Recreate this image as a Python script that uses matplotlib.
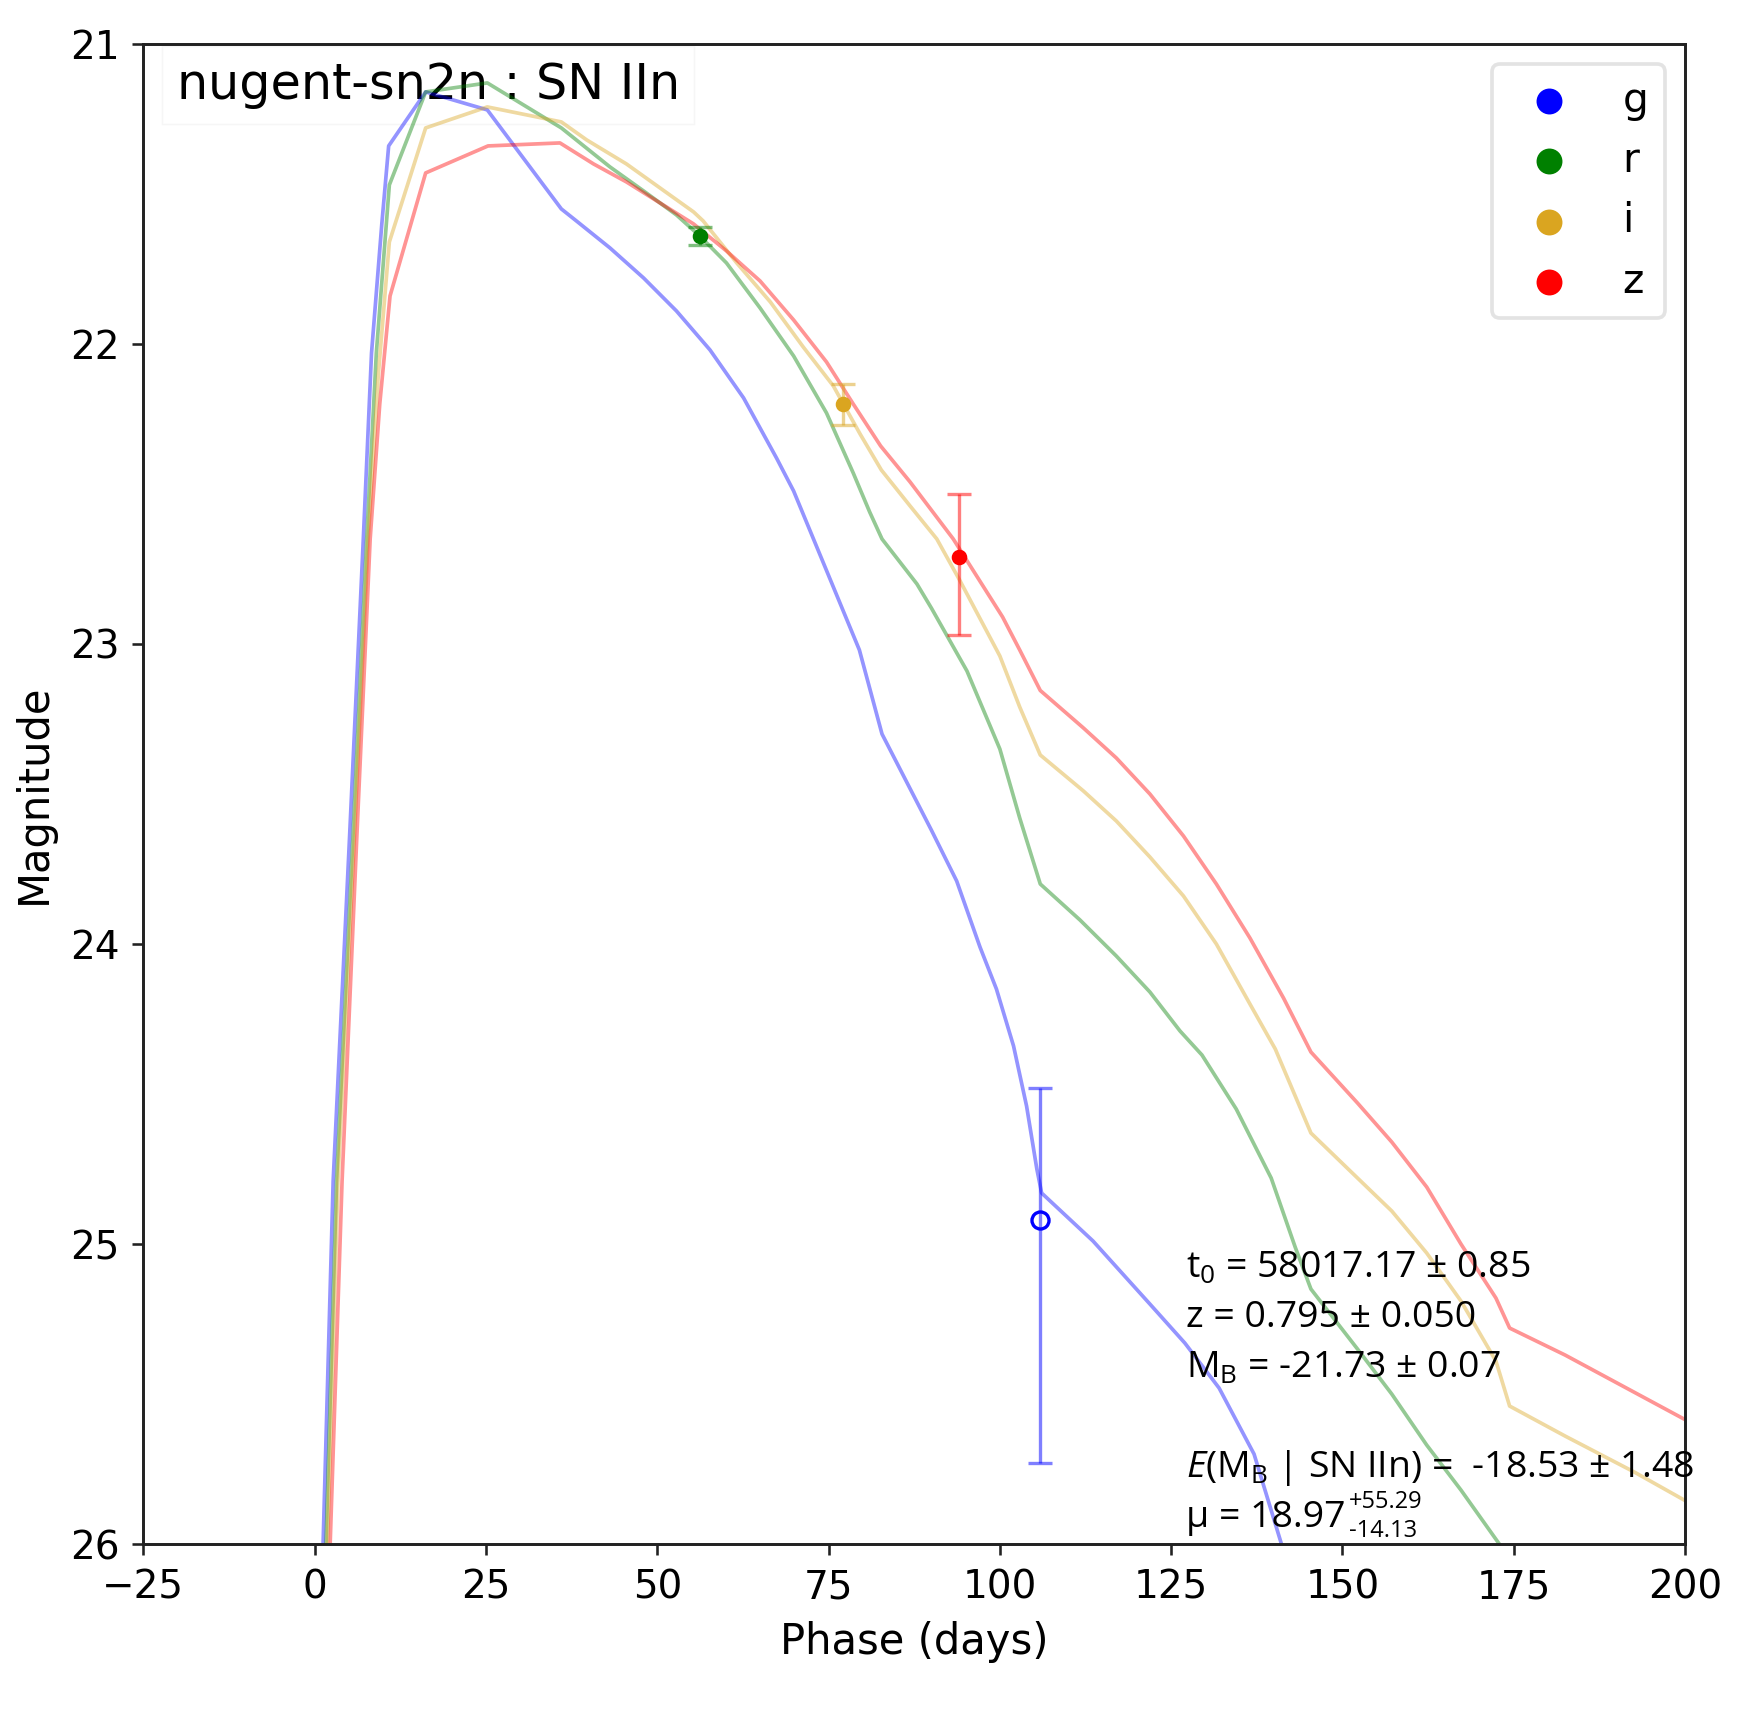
import numpy as np
import matplotlib.pyplot as plt

plt.rcParams['mathtext.fontset'] = 'custom'
plt.rcParams['mathtext.rm'] = 'Open Sans'
plt.rcParams['mathtext.it'] = 'Open Sans:italic'
plt.rcParams['axes.linewidth'] = 0.8
plt.rcParams['axes.edgecolor'] = '#222222'

# model light curves (phase in days, magnitude)
g_phase = [0.5, 2.7, 5.1, 7.1, 8.3, 9.8, 10.8, 16.2, 25.2, 36.0, 38.2, 43.1, 48.0, 52.8,
           57.7, 62.6, 67.4, 69.9, 72.8, 79.5, 82.8, 90.0, 93.7, 97.1, 99.5, 102.0, 103.9,
           105.4, 106.1, 113.6, 121.9, 127.0, 132.0, 137.1, 141.1, 150.0]
g_mag = [26.6, 24.79, 23.64, 22.65, 22.03, 21.6, 21.34, 21.16, 21.22, 21.55, 21.59, 21.68,
         21.78, 21.89, 22.02, 22.18, 22.38, 22.49, 22.65, 23.02, 23.30, 23.62, 23.79, 24.01,
         24.15, 24.34, 24.54, 24.75, 24.83, 24.99, 25.20, 25.33, 25.48, 25.70, 26.0, 26.6]

r_phase = [0.9, 3.2, 5.6, 7.6, 9.0, 10.9, 16.2, 25.2, 36.0, 43.1, 48.0, 52.8, 56.2, 60.1,
           65.0, 69.9, 74.7, 78.6, 81.0, 82.8, 87.9, 90.0, 95.2, 100.0, 102.9, 105.9, 111.7,
           117.0, 121.9, 126.3, 129.5, 134.5, 139.6, 143.1, 145.4, 152.2, 157.2, 162.3,
           167.3, 172.9, 180.0]
r_mag = [26.6, 24.79, 23.64, 22.65, 22.03, 21.47, 21.16, 21.13, 21.28, 21.41, 21.49, 21.57,
         21.64, 21.73, 21.88, 22.04, 22.23, 22.43, 22.56, 22.65, 22.80, 22.88, 23.09, 23.35,
         23.58, 23.80, 23.92, 24.04, 24.16, 24.29, 24.37, 24.55, 24.78, 25.01, 25.15, 25.35,
         25.50, 25.67, 25.82, 26.0, 26.3]

i_phase = [1.1, 3.4, 5.8, 7.8, 9.3, 10.9, 16.2, 25.2, 36.0, 39.7, 45.5, 50.4, 55.3, 56.7,
           61.6, 66.5, 71.3, 75.7, 79.6, 82.7, 86.9, 90.8, 94.2, 100.0, 102.9, 105.9, 112.2,
           117.0, 121.9, 126.8, 131.6, 136.5, 140.2, 145.4, 152.2, 157.2, 162.3, 167.3,
           172.4, 174.4, 182.5, 192.6, 200.4, 205.0]
i_mag = [26.6, 24.79, 23.64, 22.65, 22.10, 21.66, 21.28, 21.21, 21.26, 21.32, 21.40, 21.48,
         21.56, 21.59, 21.73, 21.86, 22.01, 22.14, 22.30, 22.42, 22.54, 22.65, 22.79, 23.04,
         23.21, 23.37, 23.49, 23.59, 23.71, 23.84, 24.00, 24.20, 24.35, 24.63, 24.78, 24.89,
         25.03, 25.19, 25.39, 25.54, 25.64, 25.76, 25.86, 25.92]

z_phase = [1.4, 4.0, 6.1, 8.1, 9.5, 11.0, 16.2, 25.3, 35.8, 40.7, 45.5, 50.4, 55.3, 60.1,
           65.0, 69.9, 74.7, 78.6, 82.6, 86.9, 93.2, 100.4, 102.9, 105.9, 112.2, 117.0,
           121.9, 126.8, 131.6, 136.5, 141.4, 145.4, 152.2, 157.2, 162.3, 167.3, 172.4,
           174.4, 182.5, 200.4, 205.0]
z_mag = [26.6, 24.79, 23.67, 22.65, 22.20, 21.84, 21.43, 21.34, 21.33, 21.40, 21.46, 21.53,
         21.60, 21.69, 21.79, 21.92, 22.06, 22.20, 22.34, 22.46, 22.65, 22.91, 23.02, 23.155,
         23.28, 23.38, 23.50, 23.64, 23.80, 23.98, 24.18, 24.36, 24.53, 24.66, 24.81, 25.00,
         25.18, 25.28, 25.37, 25.59, 25.64]

bands = ['g', 'r', 'i', 'z']
colors = ['blue', 'green', 'goldenrod', 'red']
model_phase = [g_phase, r_phase, i_phase, z_phase]
model_mag = [g_mag, r_mag, i_mag, z_mag]

# observed points
obs_phase = [105.9, 56.2, 77.1, 94.0]
obs_mag = [24.92, 21.64, 22.20, 22.71]
obs_err_lo = [0.44, 0.03, 0.065, 0.21]
obs_err_hi = [0.81, 0.03, 0.07, 0.26]
obs_open = [True, False, False, False]

fig_dpi = 266.4
fig = plt.figure(figsize=(1742 / fig_dpi, 1709 / fig_dpi), dpi=fig_dpi)
ax = fig.add_axes([0.0823, 0.0965, 0.885, 0.8778])

for ph, mg, c in zip(model_phase, model_mag, colors):
    ax.plot(ph, mg, color=c, alpha=0.42, lw=1.0, zorder=2)

for k in range(len(bands)):
    ax.errorbar(obs_phase[k], obs_mag[k], yerr=[[obs_err_lo[k]], [obs_err_hi[k]]],
                fmt='none', ecolor=colors[k], alpha=0.5, elinewidth=0.9,
                capsize=3.2, capthick=0.9, zorder=3)
    if obs_open[k]:
        ax.plot(obs_phase[k], obs_mag[k], 'o', mfc='none', mec=colors[k], ms=4.6,
                mew=0.9, zorder=4)
    else:
        ax.plot(obs_phase[k], obs_mag[k], 'o', color=colors[k], ms=3.2, zorder=4)

for b, c in zip(bands, colors):
    ax.scatter([], [], color=c, label=b)

ax.set_xlim(-25, 200)
ax.set_ylim(26, 21)
ax.set_xticks(np.arange(-25, 201, 25))
ax.set_yticks([21, 22, 23, 24, 25, 26])
ax.tick_params(labelsize=10.5, length=3.0, width=0.7, color='#222222')
ax.set_xlabel('Phase (days)', fontsize=11.3)
ax.set_ylabel('Magnitude', fontsize=11.3)

ax.text(0.0215, 0.9633, 'nugent-sn2n : SN IIn', transform=ax.transAxes, fontsize=13.3,
        va='baseline', ha='left', zorder=1,
        bbox=dict(boxstyle='square,pad=0.3', facecolor='white', edgecolor='#f6f6f6',
                  linewidth=0.4))

leg = ax.legend(loc='upper right', fontsize=11, frameon=True)
leg.get_frame().set_edgecolor('#dddddd')

ann = dict(transform=ax.transAxes, fontsize=10.1, family='Open Sans',
           va='baseline', ha='left')
ax.text(0.676, 0.1782, r't$_{0}$ = 58017.17 ± 0.85', **ann)
ax.text(0.676, 0.1449, 'z = 0.795 ± 0.050', **ann)
ax.text(0.676, 0.1115, r'M$_{\mathrm{B}}$ = -21.73 ± 0.07', **ann)
ax.text(0.676, 0.0449, r'$E$(M$_{\mathrm{B}}$ | SN IIn) =  -18.53 ± 1.48', **ann)
ax.text(0.676, 0.0113, 'μ = 18.97', **ann)
ax.text(0.782, 0.024, '+55.29', transform=ax.transAxes, fontsize=6.4,
        family='Open Sans', va='baseline', ha='left')
ax.text(0.782, 0.005, '-14.13', transform=ax.transAxes, fontsize=6.4,
        family='Open Sans', va='baseline', ha='left')

fig.savefig('out.png', dpi=fig_dpi)
